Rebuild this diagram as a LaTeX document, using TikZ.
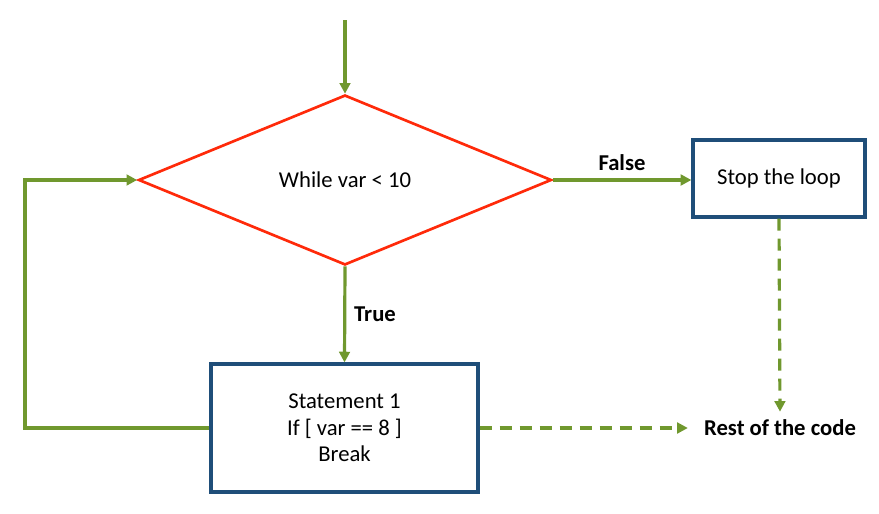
\documentclass[tikz,border=0pt]{standalone}
\usepackage{fontspec}
\setmainfont{Carlito}
\usetikzlibrary{shapes.geometric,arrows.meta}
\definecolor{loopgreen}{HTML}{70982E}
\definecolor{condred}{HTML}{FF2A0A}
\definecolor{boxblue}{HTML}{1F4E79}

\begin{document}
\begin{tikzpicture}[x=0.75pt,y=-0.75pt,font=\fontsize{17}{20}\selectfont,
  flow/.style={draw=loopgreen,line width=2.4pt,-{Triangle[length=8pt,width=8pt]}},
  dflow/.style={flow,dash pattern=on 9pt off 6pt},
  blk/.style={draw=boxblue,line width=2.4pt,align=center,inner sep=0pt}]
\useasboundingbox (0,0) rectangle (879,514);
\node[diamond,draw=condred,line width=2pt,aspect=2.43,inner sep=0pt,
  minimum width=309.75pt,minimum height=127.5pt] (cond) at (345,180) {While var < 10};
\node[blk,minimum width=129pt,minimum height=57.75pt] (stop) at (779,178.5) {Stop the loop};
\node[blk,minimum width=200.25pt,minimum height=96pt] (body) at (344.5,428)
  {Statement 1\\If [ var == 8 ]\\Break};
\node[font=\fontsize{17}{20}\selectfont\bfseries,inner xsep=12pt,inner ysep=6pt] (rest) at (780,428) {Rest of the code};
\node[font=\fontsize{17}{20}\selectfont\bfseries] (lfalse) at (622,163) {False};
\node[font=\fontsize{17}{20}\selectfont\bfseries] (ltrue) at (375,314) {True};
\coordinate (entry) at (345,20);
\coordinate (back) at (25,428);
% arrows
\draw[flow] (entry) -- (cond.north);
\draw[flow] (cond.east) -- (cond.east -| stop.west);
\draw[flow] (cond.south) -- (body.north);
\draw[flow] (body.west) -- (back) |- (cond.west);
\draw[dflow] (stop.south) -- (rest.north);
\draw[dflow] (body.east) -- (rest.west);
\end{tikzpicture}
\end{document}
